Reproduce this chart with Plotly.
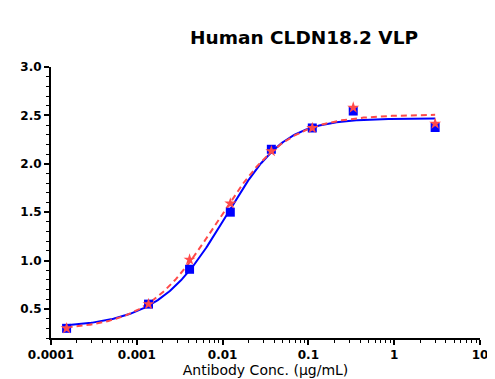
import numpy as np
import plotly.graph_objects as go

# Data
conc = [0.000152, 0.00137, 0.00412, 0.0123, 0.037, 0.111, 0.333, 3.0]
blue_vals = [0.30, 0.55, 0.91, 1.50, 2.15, 2.37, 2.545, 2.375]
red_vals = [0.30, 0.55, 1.01, 1.59, 2.13, 2.37, 2.58, 2.415]

x_tick_vals = [0.0001, 0.001, 0.01, 0.1, 1, 10]
x_tick_text = ["0.0001", "0.001", "0.01", "0.1", "1", "10"]
y_tick_vals = [0.5, 1.0, 1.5, 2.0, 2.5, 3.0]
y_tick_text = ["0.5", "1.0", "1.5", "2.0", "2.5", "3.0"]

# Fitted curve parameters (estimated from the drawn fit lines)
blue_fit = dict(bottom=0.30, top=2.47, ec50=0.01442, hill=1.334, asym=0.7)
red_fit = dict(bottom=0.28, top=2.51, ec50=0.00856, hill=1.066, asym=1.0)


def logistic(x, p):
    x = np.asarray(x, dtype=float)
    return p["bottom"] + (p["top"] - p["bottom"]) / (1 + (p["ec50"] / x) ** p["hill"]) ** p["asym"]


xfit = np.logspace(np.log10(min(conc)), np.log10(max(conc)), 300)

BLUE = "#0000FF"
RED = "#FF4A4A"
FONT = "DejaVu Sans, Verdana, sans-serif"

fig = go.Figure()
fig.add_trace(go.Scatter(x=xfit, y=logistic(xfit, blue_fit), mode="lines",
                         line=dict(color=BLUE, width=2), showlegend=False, hoverinfo="skip"))
fig.add_trace(go.Scatter(x=xfit, y=logistic(xfit, red_fit), mode="lines",
                         line=dict(color=RED, width=2, dash="6px,4px"), showlegend=False, hoverinfo="skip"))
fig.add_trace(go.Scatter(x=conc, y=blue_vals, mode="markers",
                         marker=dict(symbol="square", size=9, color=BLUE), showlegend=False))
fig.add_trace(go.Scatter(x=conc, y=red_vals, mode="markers",
                         marker=dict(symbol="star", size=9, color=RED), showlegend=False))

minor_x = [m * 10 ** e for e in range(-4, 1) for m in range(2, 10)]

fig.update_layout(
    width=495, height=379,
    margin=dict(l=38, r=23, t=59, b=43),
    paper_bgcolor="white", plot_bgcolor="white",
    font=dict(family=FONT, color="black"),
    title=dict(text="<b>Human CLDN18.2 VLP</b>", x=296 / 495, xanchor="center",
               y=1 - 30 / 379, yanchor="middle",
               font=dict(size=18.5, color="black", family=FONT)),
    xaxis=dict(
        type="log", range=[-4, 1], showgrid=False, zeroline=False,
        showline=True, linecolor="black", linewidth=2,
        ticks="outside", ticklen=5, tickwidth=1.5, tickcolor="black",
        tickvals=x_tick_vals, ticktext=x_tick_text,
        tickfont=dict(size=12, family=FONT, weight="bold"),
        minor=dict(tickvals=minor_x, ticks="outside", ticklen=3, tickwidth=1, tickcolor="black"),
        title=dict(text="Antibody Conc. (μg/mL)", font=dict(size=14, family=FONT), standoff=3),
    ),
    yaxis=dict(
        range=[0.2, 3.0], showgrid=False, zeroline=False,
        showline=True, linecolor="black", linewidth=2,
        ticks="outside", ticklen=5, tickwidth=1.5, tickcolor="black",
        tickvals=y_tick_vals, ticktext=y_tick_text,
        tickfont=dict(size=12, family=FONT, weight="bold"),
        minor=dict(dtick=0.1, ticks="outside", ticklen=3, tickwidth=1, tickcolor="black"),
    ),
)

fig.write_html("out.html")
